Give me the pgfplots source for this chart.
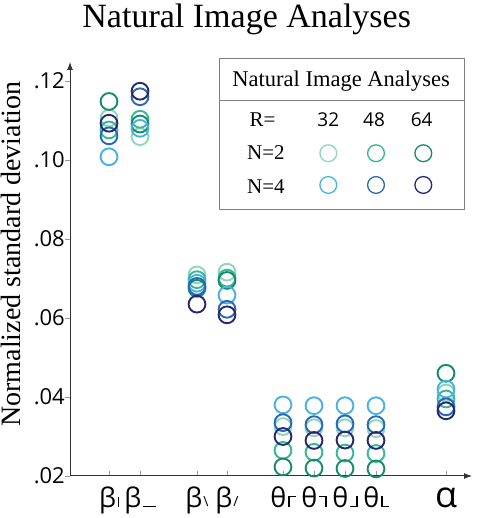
\documentclass[border=0pt]{standalone}
\usepackage{pgfplots}
\pgfplotsset{compat=1.18}
\usepackage{pgfplotstable}
\usepackage{fontspec}
\setmainfont{Liberation Serif}
\newfontfamily\labelsans{Open Sans}
\usetikzlibrary{arrows.meta}

% ring colours: N=2 (greens) and N=4 (blues), for R = 32, 48, 64
\definecolor{ntwoA}{RGB}{140,214,190}
\definecolor{ntwoB}{RGB}{52,184,150}
\definecolor{ntwoC}{RGB}{22,140,105}
\definecolor{nfourA}{RGB}{72,178,228}
\definecolor{nfourB}{RGB}{40,104,180}
\definecolor{nfourC}{RGB}{38,40,115}

% small oriented subscripts for the parameter names
\newcommand\sbar{\hspace{1.5pt}\rule{1.4pt}{10pt}}
\newcommand\sdash{\hspace{1.5pt}\rule{13pt}{1.4pt}}
\newcommand\sback{\hspace{1pt}{\fontsize{14}{14}\selectfont\textbackslash}}
\newcommand\sslash{\hspace{1pt}{\fontsize{14}{14}\selectfont/}}
\newcommand\ctl{\hspace{2pt}\rule{1.4pt}{11pt}\rule[9.6pt]{6pt}{1.4pt}}
\newcommand\ctr{\hspace{2pt}\rule[9.6pt]{6pt}{1.4pt}\rule{1.4pt}{11pt}}
\newcommand\cbr{\hspace{2pt}\rule{6pt}{1.4pt}\rule{1.4pt}{11pt}}
\newcommand\cbl{\hspace{2pt}\rule{1.4pt}{11pt}\rule{6pt}{1.4pt}}

% normalized standard deviation per parameter
\pgfplotstableread{
x      ntwoA  ntwoB  ntwoC  nfourA nfourB nfourC
1.258  0.1106 0.1076 0.1148 0.1008 0.1061 0.1093
2.258  0.1059 0.1103 0.1091 0.1080 0.1160 0.1174
4.097  0.0709 0.0697 0.0675 0.0688 0.0680 0.0635
5.065  0.0716 0.0701 0.0695 0.0658 0.0622 0.0608
6.871  0.0325 0.0265 0.0223 0.0380 0.0335 0.0300
7.871  0.0322 0.0260 0.0220 0.0378 0.0330 0.0290
8.871  0.0322 0.0258 0.0219 0.0378 0.0332 0.0291
9.871  0.0320 0.0257 0.0218 0.0378 0.0330 0.0290
12.129 0.0410 0.0395 0.0460 0.0420 0.0375 0.0365
}\sdtable

\pgfplotsset{
  ring/.style={only marks, mark=o, mark size=8.4pt, line width=1.9pt, color=#1},
  keyring/.style={only marks, mark=o, mark size=8.4pt, line width=1.3pt, color=#1},
}

\begin{document}
\begin{tikzpicture}
\path[use as bounding box] (0pt,0pt) rectangle (478pt,518pt);
\begin{axis}[
  at={(70pt,42pt)}, anchor=south west,
  scale only axis, width=402pt, height=414pt,
  xmin=0, xmax=12.968, ymin=0.02, ymax=0.1248,
  clip=false,
  axis lines=left,
  axis line style={draw=black!80, line width=1pt, -{Latex[length=8pt,width=6pt]}},
  xtick={1.258,2.258,4.097,5.065,6.871,7.871,8.871,9.871,12.129},
  xticklabels={β\sbar, β\sdash, β\sback, β\sslash, θ\ctl, θ\ctr, θ\cbr, θ\cbl,
    {\fontsize{36}{36}\selectfont α}},
  ytick={0.02,0.04,0.06,0.08,0.10,0.12},
  yticklabels={.02,.04,.06,.08,.10,.12},
  tick align=inside,
  major tick length=5pt,
  tick style={draw=black!40, line width=0.8pt},
  ytick style={xshift=-5pt},
  yticklabel style={font=\labelsans\fontsize{22}{22}\selectfont, anchor=east,
    inner sep=0pt, xshift=-5pt},
  xticklabel style={font=\labelsans\fontsize{27}{27}\selectfont, anchor=base,
    inner sep=0pt, yshift=-31pt},
]
\addplot[ring=ntwoA]  table[x=x, y=ntwoA]  {\sdtable};
\addplot[ring=ntwoB]  table[x=x, y=ntwoB]  {\sdtable};
\addplot[ring=ntwoC]  table[x=x, y=ntwoC]  {\sdtable};
\addplot[ring=nfourA] table[x=x, y=nfourA] {\sdtable};
\addplot[ring=nfourB] table[x=x, y=nfourB] {\sdtable};
\addplot[ring=nfourC] table[x=x, y=nfourC] {\sdtable};

% key samples
\addplot[keyring=ntwoA]  coordinates {(8.332,0.1017)};
\addplot[keyring=ntwoB]  coordinates {(9.871,0.1017)};
\addplot[keyring=ntwoC]  coordinates {(11.397,0.1017)};
\addplot[keyring=nfourA] coordinates {(8.332,0.09367)};
\addplot[keyring=nfourB] coordinates {(9.871,0.09367)};
\addplot[keyring=nfourC] coordinates {(11.397,0.09367)};
\end{axis}

% title and y label
\node[anchor=base] at (246.7pt,490pt) {\fontsize{34}{40}\selectfont Natural Image Analyses};
\node[rotate=90, anchor=base, inner sep=0pt] at (20.5pt,264pt)
  {\fontsize{28}{32}\selectfont Normalized standard deviation};

% key frame and text
\draw[black!50, line width=0.9pt] (219pt,460pt) rectangle (464pt,309pt);
\draw[black!50, line width=0.9pt] (219pt,418pt) -- (464pt,418pt);
\node[anchor=base] at (341.2pt,431.3pt) {\fontsize{22.5}{26}\selectfont Natural Image Analyses};
\node[anchor=base west, inner sep=0pt] at (249.5pt,391.3pt) {\fontsize{21}{24}\selectfont R=};
\node[anchor=base west, inner sep=0pt] at (247pt,358pt) {\fontsize{21}{24}\selectfont N=2};
\node[anchor=base west, inner sep=0pt] at (247pt,324.7pt) {\fontsize{21}{24}\selectfont N=4};
\foreach \xx/\tt in {328.3/32, 374/48, 421.7/64}
  \node[anchor=base, inner sep=0pt] at (\xx pt,391.3pt) {\labelsans\fontsize{19}{22}\selectfont \tt};
\end{tikzpicture}
\end{document}
